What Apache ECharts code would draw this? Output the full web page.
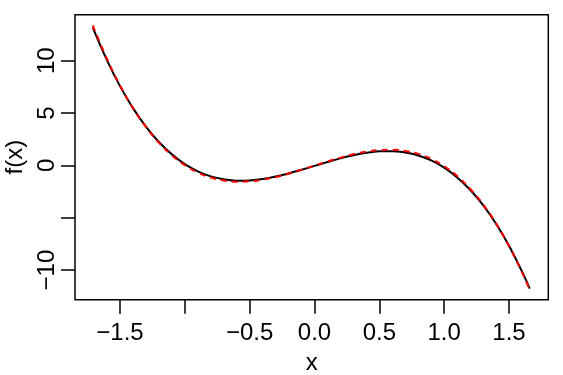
<!DOCTYPE html>
<html>
<head>
<meta charset="utf-8">
<script src="https://cdn.jsdelivr.net/npm/echarts@6/dist/echarts.min.js"></script>
<style>
html,body{margin:0;padding:0;background:#fff;}
#c{width:563px;height:375px;}
</style>
</head>
<body>
<div id="c"></div>
<script>
// x positions
var xs = [-1.71, -1.6, -1.5, -1.4, -1.3, -1.2, -1.1, -1.0, -0.9, -0.8, -0.7, -0.6, -0.5, -0.4, -0.3, -0.2, -0.1,
          0.0, 0.1, 0.2, 0.3, 0.4, 0.5, 0.6, 0.7, 0.8, 0.9, 1.0, 1.1, 1.2, 1.3, 1.4, 1.5, 1.6, 1.66];
// black solid curve f(x)
var blackY = [13.15, 10.03, 7.57, 5.47, 3.70, 2.23, 1.05, 0.12, -0.57, -1.05, -1.33, -1.46, -1.44, -1.30, -1.07, -0.77, -0.42,
              -0.05, 0.32, 0.67, 0.97, 1.20, 1.34, 1.36, 1.23, 0.95, 0.47, -0.22, -1.15, -2.33, -3.80, -5.57, -7.67, -10.13, -11.77];
// red dashed curve
var redY = [13.37, 10.16, 7.64, 5.48, 3.67, 2.17, 0.96, 0.02, -0.68, -1.16, -1.44, -1.56, -1.52, -1.37, -1.12, -0.80, -0.43,
            -0.03, 0.37, 0.74, 1.06, 1.31, 1.46, 1.50, 1.38, 1.10, 0.62, -0.08, -1.02, -2.23, -3.73, -5.54, -7.70, -10.22, -11.88];
// ticks and labels
var xTicks = [-1.5, -1.0, -0.5, 0.0, 0.5, 1.0, 1.5];
var xLabels = [-1.5, -0.5, 0.0, 0.5, 1.0, 1.5];
var yTicks = [-10, -5, 0, 5, 10];
var yLabels = [-10, 0, 5, 10];

function pairs(xa, ya) { return xa.map(function (x, i) { return [x, ya[i]]; }); }
function fmt(v, d) { var s = Math.abs(v).toFixed(d); return (v < -1e-9 ? '\u2212' : '') + s; }

var font = 'Liberation Sans, Arial, Helvetica, sans-serif';
var chart = echarts.init(document.getElementById('c'), null, { renderer: 'canvas' });
chart.setOption({
  animation: false,
  backgroundColor: '#fff',
  grid: { left: 75, right: 14.7, top: 14.7, bottom: 75.3, show: true, borderColor: '#000', borderWidth: 1.5,
          backgroundColor: 'transparent', containLabel: false, outerBoundsMode: 'none' },
  xAxis: {
    type: 'value', min: -1.847, max: 1.803,
    name: 'x', nameLocation: 'middle', nameGap: 52,
    nameTextStyle: { color: '#000', fontSize: 24, fontFamily: font },
    axisLine: { show: false, onZero: false },
    splitLine: { show: false },
    axisTick: { show: true, inside: false, length: 14, lineStyle: { color: '#000', width: 1.5 }, customValues: xTicks },
    axisLabel: { show: true, margin: 22, color: '#000', fontSize: 24, fontFamily: font, customValues: xLabels,
                 formatter: function (v) { return fmt(v, 1); } }
  },
  yAxis: {
    type: 'value', min: -12.83, max: 14.39,
    name: 'f(x)', nameLocation: 'middle', nameGap: 41,
    nameTextStyle: { color: '#000', fontSize: 24, fontFamily: font },
    axisLine: { show: false, onZero: false },
    splitLine: { show: false },
    axisTick: { show: true, inside: false, length: 14, lineStyle: { color: '#000', width: 1.5 }, customValues: yTicks },
    axisLabel: { show: true, rotate: 90, margin: 16, color: '#000', fontSize: 24, fontFamily: font, customValues: yLabels,
                 formatter: function (v) { return fmt(v, 0); } }
  },
  series: [
    { type: 'line', data: pairs(xs, blackY), smooth: 0.4, showSymbol: false, symbol: 'none',
      lineStyle: { color: '#000', width: 2 }, z: 2 },
    { type: 'line', data: pairs(xs, redY), smooth: 0.4, showSymbol: false, symbol: 'none',
      lineStyle: { color: '#ff0000', width: 2, type: [6, 5] }, z: 3 }
  ]
});
</script>
</body>
</html>
